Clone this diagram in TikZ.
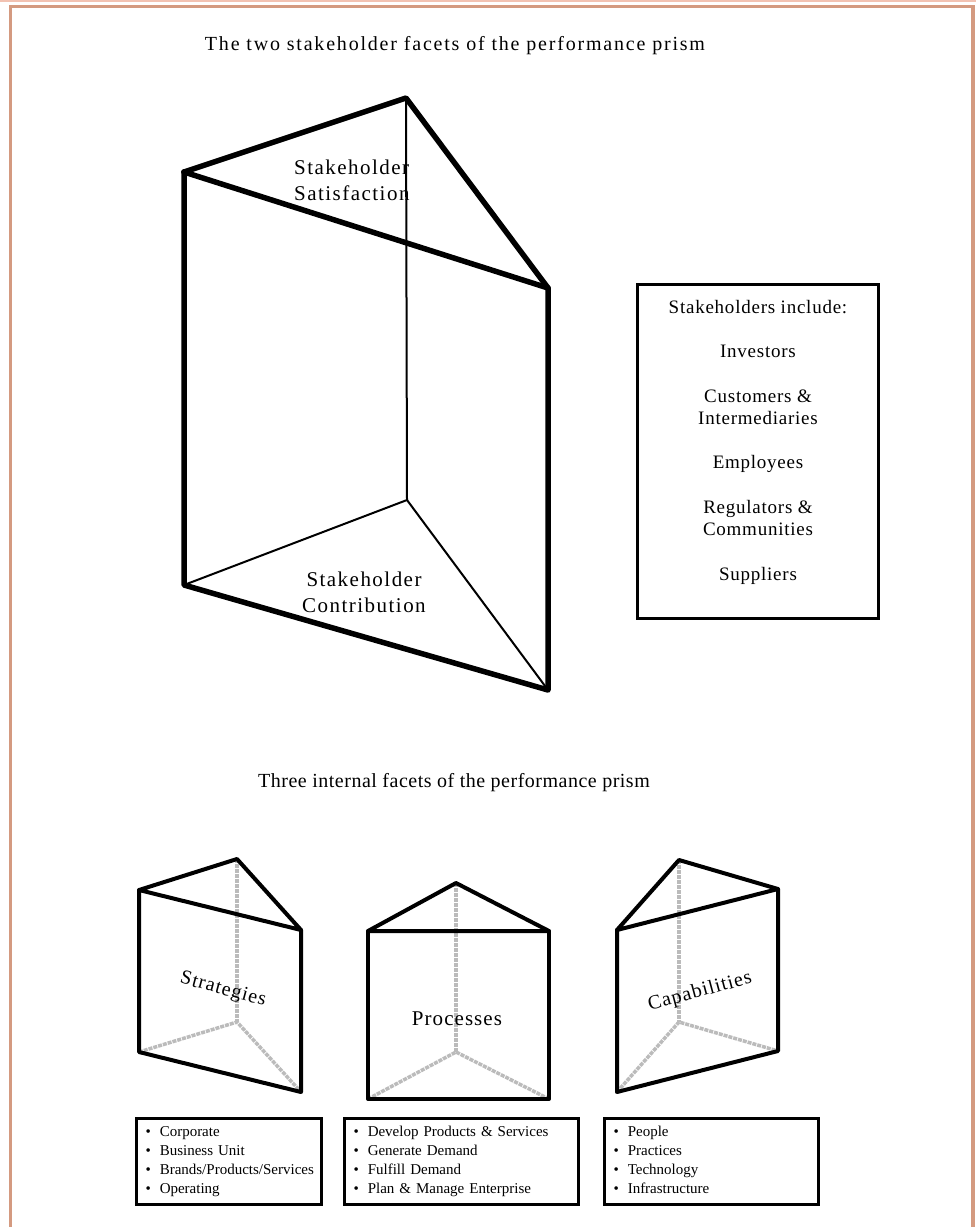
\documentclass[tikz,border=0pt]{standalone}
\usepackage{fontspec}
\setmainfont{Liberation Serif}
\newfontfamily\titlewide[LetterSpace=9]{Liberation Serif}
\newfontfamily\titlenarrow[LetterSpace=2.5]{Liberation Serif}
\newfontfamily\labelwide[LetterSpace=7]{Liberation Serif}
\newfontfamily\boxwide[LetterSpace=4]{Liberation Serif}
\newfontfamily\facetwide[LetterSpace=5]{Liberation Serif}
\definecolor{framec}{HTML}{D49A80}
\definecolor{toprule}{HTML}{F2C2B2}
\definecolor{hiddenc}{HTML}{BBBBBB}
\begin{document}
\begin{tikzpicture}[x=1pt,y=-1pt,
  heavy/.style={line width=5.5pt,line cap=round,line join=round},
  thin/.style={line width=2pt,line cap=round},
  edge/.style={line width=4pt,line cap=round,line join=round},
  hidden/.style={line width=3.5pt,draw=hiddenc,dash pattern=on 4pt off 1pt},
  listbox/.style={draw,line width=3pt,anchor=north west,text width=#1,
    minimum height=86pt,inner xsep=9pt,inner ysep=0pt,font=\fontsize{15}{19}\selectfont},
  label/.style={font=\labelwide\fontsize{21}{26}\selectfont,inner sep=0pt},
  facet/.style={font=\facetwide\fontsize{20}{24}\selectfont,inner sep=0pt},
  boxtext/.style={font=\boxwide\fontsize{19}{22}\selectfont,anchor=base,inner sep=0pt}]
\useasboundingbox (0,0) rectangle (976,1227);

% page frame
\draw[toprule,line width=2pt] (0,1) -- (976,1);
\draw[framec,line width=3.5pt] (10.5,1227) -- (10.5,6.5) -- (973,6.5) -- (973,1227);

% titles
\node[font=\titlewide\fontsize{20}{24}\selectfont,anchor=base] (t1) at (455,50)
  {The two stakeholder facets of the performance prism};
\node[font=\titlenarrow\fontsize{20}{24}\selectfont,anchor=base] (t2) at (454,787)
  {Three internal facets of the performance prism};

% large prism: stakeholder facets
\coordinate (A) at (406,98);
\coordinate (B) at (184,172);
\coordinate (C) at (548,288);
\coordinate (D) at (407,500);
\coordinate (E) at (184,585);
\coordinate (F) at (548,690);
\draw[thin] (A) -- (D);
\draw[thin] (E) -- (D) -- (F);
\draw[heavy] (B) -- (A) -- (C);
\draw[heavy] (B) -- (C);
\draw[heavy] (B) -- (E) -- (F) -- (C);
\node[label,align=left,anchor=base west] (sat) at (294,200)
  {Stakeholder\\Satisfaction};
\node[label,align=center,anchor=base] (con) at (364,612)
  {Stakeholder\\Contribution};

% stakeholder list
\node[draw,line width=3pt,minimum width=241pt,minimum height=334pt,anchor=north west,inner sep=0pt]
  (sbox) at (636,283) {};
\node[boxtext] (s1) at (758,313) {Stakeholders include:};
\node[boxtext] (s2) at (758,357) {Investors};
\node[boxtext] (s3) at (758,402) {Customers \&};
\node[boxtext] (s4) at (758,424) {Intermediaries};
\node[boxtext] (s5) at (758,468) {Employees};
\node[boxtext] (s6) at (758,513) {Regulators \&};
\node[boxtext] (s7) at (758,535) {Communities};
\node[boxtext] (s8) at (758,580) {Suppliers};

% prism 1: strategies
\coordinate (p1t) at (237,859);
\coordinate (p1l) at (139,890);
\coordinate (p1r) at (301,930);
\coordinate (p1b) at (237,1022);
\coordinate (p1bl) at (139,1052);
\coordinate (p1br) at (301,1092);
\draw[hidden] (p1t) -- (p1b);
\draw[hidden] (p1bl) -- (p1b) -- (p1br);
\draw[edge] (p1l) -- (p1t) -- (p1r) -- cycle;
\draw[edge] (p1l) -- (p1bl) -- (p1br) -- (p1r);
\node[facet,rotate=-15] (strat) at (223,990) {Strategies};

% prism 2: processes
\coordinate (p2t) at (456,883);
\coordinate (p2l) at (368,931);
\coordinate (p2r) at (549,931);
\coordinate (p2b) at (456,1052);
\coordinate (p2bl) at (368,1099);
\coordinate (p2br) at (549,1099);
\draw[hidden] (p2t) -- (p2b);
\draw[hidden] (p2bl) -- (p2b) -- (p2br);
\draw[edge] (p2l) -- (p2t) -- (p2r) -- cycle;
\draw[edge] (p2l) -- (p2bl) -- (p2br) -- (p2r);
\node[facet,font=\facetwide\fontsize{21}{24}\selectfont,anchor=base] (proc) at (457,1025) {Processes};

% prism 3: capabilities
\coordinate (p3t) at (679,860);
\coordinate (p3l) at (617,930);
\coordinate (p3r) at (778,889);
\coordinate (p3b) at (679,1022);
\coordinate (p3bl) at (617,1092);
\coordinate (p3br) at (778,1051);
\draw[hidden] (p3t) -- (p3b);
\draw[hidden] (p3bl) -- (p3b) -- (p3br);
\draw[edge] (p3l) -- (p3t) -- (p3r) -- cycle;
\draw[edge] (p3l) -- (p3bl) -- (p3br) -- (p3r);
\node[facet,rotate=15] (capa) at (700,992) {Capabilities};

% bullet lists
\node[listbox=167pt] (l1) at (135,1117) {%
  \begin{tabular}{@{}l@{\hspace{9pt}}l@{}}
  \textbullet & Corporate\\
  \textbullet & Business Unit\\
  \textbullet & Brands/Products/Services\\
  \textbullet & Operating
  \end{tabular}};
\node[listbox=216pt] (l2) at (343,1117) {%
  \begin{tabular}{@{}l@{\hspace{9pt}}l@{}}
  \textbullet & Develop Products \& Services\\
  \textbullet & Generate Demand\\
  \textbullet & Fulfill Demand\\
  \textbullet & Plan \& Manage Enterprise
  \end{tabular}};
\node[listbox=196pt] (l3) at (603,1117) {%
  \begin{tabular}{@{}l@{\hspace{9pt}}l@{}}
  \textbullet & People\\
  \textbullet & Practices\\
  \textbullet & Technology\\
  \textbullet & Infrastructure
  \end{tabular}};
\end{tikzpicture}
\end{document}
